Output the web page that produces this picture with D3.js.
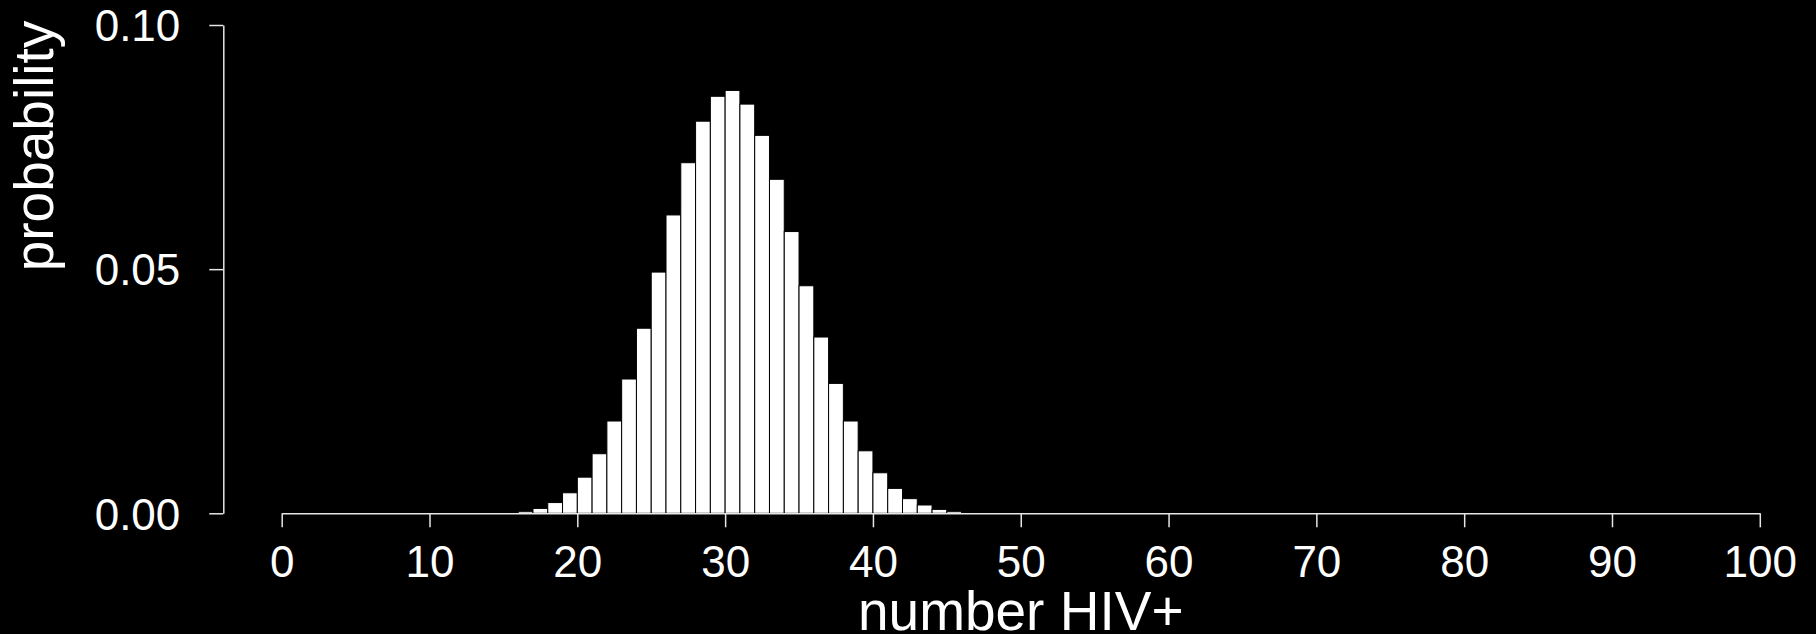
<!DOCTYPE html>
<meta charset="utf-8">
<head>
<style>
body {
  margin: 0;
  background: #000;
}

svg {
  display: block;
  background: #000;
  font-family: 'Liberation Sans', Helvetica, Arial, sans-serif;
}

.bar {
  fill: #fff;
  stroke: #000;
  stroke-width: 1;
}

.axis path,
.axis line {
  fill: none;
  stroke: #e6e6e6;
  stroke-width: 1.5;
}

.axis text {
  fill: #fff;
  font-size: 44px;
  font-family: 'Liberation Sans', Helvetica, Arial, sans-serif;
}

.label {
  fill: #fff;
  font-size: 55px;
}
</style>
</head>

<body>
<div id="chart"></div>

<script src="https://d3js.org/d3.v7.min.js"></script>
<script>

// number HIV+ (left edge of each bar) and its probability
var counts = [16, 17, 18, 19, 20, 21, 22, 23, 24, 25, 26, 27, 28, 29, 30,
              31, 32, 33, 34, 35, 36, 37, 38, 39, 40, 41, 42, 43, 44, 45];
var probs = [0.0004, 0.0010, 0.0022, 0.0042, 0.0074, 0.0122, 0.0189, 0.0275, 0.0379, 0.0494,
             0.0611, 0.0718, 0.0803, 0.0854, 0.0866, 0.0838, 0.0774, 0.0684, 0.0577, 0.0466,
             0.0361, 0.0266, 0.0189, 0.0128, 0.0083, 0.0051, 0.0030, 0.0017, 0.0008, 0.0004];

var xTicks = [0, 10, 20, 30, 40, 50, 60, 70, 80, 90, 100];
var yTicks = [0, 0.05, 0.10];

var width = 1816,
    height = 634;

var x = d3.scaleLinear()
    .domain([0, 100])
    .range([281.7, 1759.8]);

var y = d3.scaleLinear()
    .domain([0, 0.1])
    .range([513.3, 25]);

var svg = d3.select("#chart").append("svg")
    .attr("width", width)
    .attr("height", height);

var data = counts.map(function(k, i) { return {k: k, p: probs[i]}; });

svg.selectAll(".bar")
    .data(data)
  .enter().append("rect")
    .attr("class", "bar")
    .attr("x", function(d) { return x(d.k); })
    .attr("width", function(d) { return x(d.k + 1) - x(d.k); })
    .attr("y", function(d) { return y(d.p); })
    .attr("height", function(d) { return y(0) - y(d.p); });

var xAxis = d3.axisBottom(x)
    .tickValues(xTicks)
    .tickSizeOuter(0)
    .tickSizeInner(14)
    .tickPadding(18)
    .tickFormat(d3.format("d"));

var yAxis = d3.axisLeft(y)
    .tickValues(yTicks)
    .tickSizeOuter(0)
    .tickSizeInner(14)
    .tickPadding(29)
    .tickFormat(d3.format(".2f"));

svg.append("g")
    .attr("class", "x axis")
    .attr("transform", "translate(0," + y(0) + ")")
    .call(xAxis)
  .selectAll("text")
    .attr("dy", "0.72em");

svg.append("g")
    .attr("class", "y axis")
    .attr("transform", "translate(223.3,0)")
    .call(yAxis)
  .selectAll("text")
    .attr("dy", "0.36em");

svg.append("text")
    .attr("class", "label")
    .attr("text-anchor", "middle")
    .attr("x", (x(0) + x(100)) / 2)
    .attr("y", 630)
    .text("number HIV+");

svg.append("text")
    .attr("class", "label")
    .attr("text-anchor", "middle")
    .attr("transform", "translate(53,146) rotate(-90)")
    .text("probability");

</script>
</body>
